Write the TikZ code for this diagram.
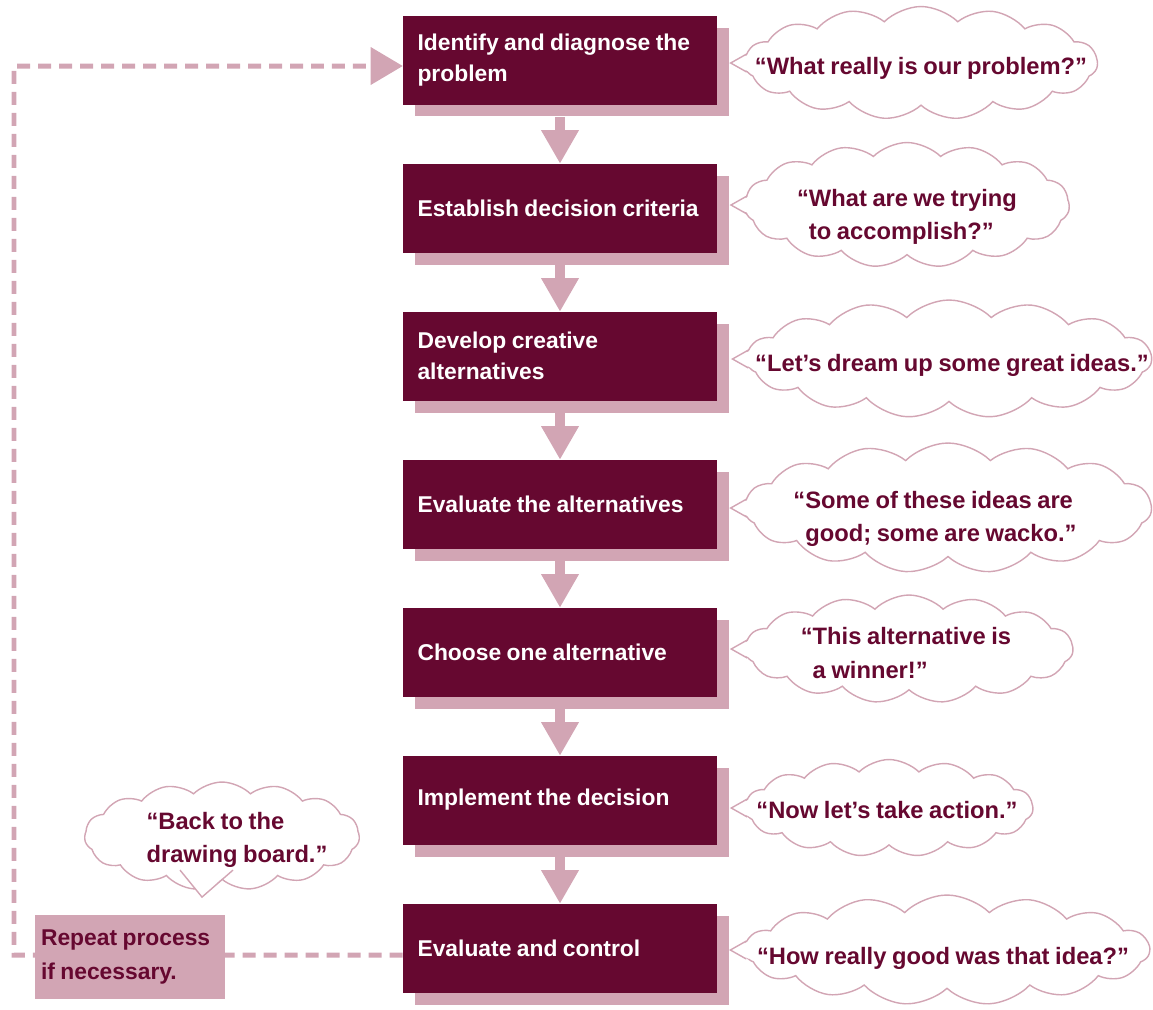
\documentclass[tikz,border=0pt]{standalone}
\usepackage{fontspec}
\setmainfont{Liberation Sans}[WordSpace=0.85]
\usetikzlibrary{arrows.meta,shapes.symbols,shadows}
\definecolor{wine}{HTML}{660830}
\definecolor{rose}{HTML}{D2A5B4}
\tikzset{
  stepbox/.style={fill=wine, text=white, font=\bfseries\fontsize{13}{18}\selectfont,
    text width=5.7cm, inner xsep=0.29cm, inner ysep=0pt, minimum height=1.78cm, align=flush left,
    drop shadow={shadow xshift=0.24cm, shadow yshift=-0.24cm, fill=rose, opacity=1}},
  thought/.style={cloud, cloud puffs=15, cloud puff arc=90, cloud ignores aspect,
    draw=rose, line width=0.8pt, fill=white, inner sep=0pt},
  saying/.style={text=wine, font=\bfseries\fontsize{13.5}{19}\selectfont, align=left, inner sep=0pt},
  tail/.style={draw=rose, line width=0.8pt},
  flow/.style={draw=rose, line width=0.2cm, -{Triangle[width=0.76cm,length=0.66cm,line width=0pt]}},
  redo/.style={draw=rose, line width=0.1cm, dash pattern=on 0.26cm off 0.16cm,
    -{Triangle[width=0.76cm,length=0.64cm,line width=0pt]}},
}

\begin{document}
\begin{tikzpicture}[x=0.02cm, y=-0.02cm]
    \useasboundingbox (0,0) rectangle (1153,1009);
    % the seven steps
    \node[stepbox] (s1) at (560,60) {Identify and diagnose the\\problem};
    \node[stepbox] (s2) at (560,208) {Establish decision criteria};
    \node[stepbox] (s3) at (560,356) {Develop creative\\alternatives};
    \node[stepbox] (s4) at (560,504) {Evaluate the alternatives};
    \node[stepbox] (s5) at (560,652) {Choose one alternative};
    \node[stepbox] (s6) at (560,800) {Implement the decision};
    \node[stepbox] (s7) at (560,948) {Evaluate and control};
    \draw[flow] ([yshift=-0.24cm]s1.south) -- (s2.north);
    \draw[flow] ([yshift=-0.24cm]s2.south) -- (s3.north);
    \draw[flow] ([yshift=-0.24cm]s3.south) -- (s4.north);
    \draw[flow] ([yshift=-0.24cm]s4.south) -- (s5.north);
    \draw[flow] ([yshift=-0.24cm]s5.south) -- (s6.north);
    \draw[flow] ([yshift=-0.24cm]s6.south) -- (s7.north);

    % loop back to the start
    \coordinate (turn) at (14,66);
    \draw[redo] ([yshift=-0.14cm]s7.west) -| (turn) -- ([yshift=-0.12cm]s1.west);
    \node[fill=rose, text=wine, font=\bfseries\fontsize{13}{19}\selectfont, text width=3.56cm,
      inner xsep=0.12cm, inner ysep=0pt, minimum height=1.68cm, align=flush left]
      (again) at (130,957) {Repeat process\\if necessary.};

    % thought clouds
    \node[thought, minimum width=7.06cm, minimum height=2.26cm] (c1) at (921,63) {};
    \node[thought, minimum width=6.5cm, minimum height=2.5cm] (c2) at (907,205) {};
    \node[thought, minimum width=8.1cm, minimum height=2.36cm] (c3) at (949,359) {};
    \node[thought, minimum width=8.14cm, minimum height=2.6cm] (c4) at (948,508) {};
    \node[thought, minimum width=6.56cm, minimum height=2.16cm] (c5) at (909,649) {};
    \node[thought, minimum width=5.76cm, minimum height=1.94cm] (c6) at (889,808) {};
    \node[thought, minimum width=8.1cm, minimum height=2.2cm] (c7) at (947,950) {};
    \node[thought, minimum width=5.5cm, minimum height=2.16cm] (cb) at (222,836) {};
    \foreach \c in {c1,c2,c3,c4,c5,c6,c7} {
      \fill[white] ([xshift=0.12cm,yshift=0.18cm]\c.west) -- ([xshift=-0.26cm]\c.west)
        -- ([xshift=0.12cm,yshift=-0.18cm]\c.west) -- cycle;
      \draw[tail] ([xshift=0.06cm,yshift=0.18cm]\c.west) -- ([xshift=-0.26cm]\c.west)
        -- ([xshift=0.06cm,yshift=-0.18cm]\c.west);
    }
    \fill[white] ([xshift=-0.84cm,yshift=0.24cm]cb.south) -- ([xshift=-0.4cm,yshift=-0.34cm]cb.south)
      -- ([xshift=0.22cm,yshift=0.24cm]cb.south) -- cycle;
    \draw[tail] ([xshift=-0.84cm,yshift=0.2cm]cb.south) -- ([xshift=-0.4cm,yshift=-0.34cm]cb.south)
      -- ([xshift=0.22cm,yshift=0.2cm]cb.south);

    \node[saying] (t1) at (921,68) {``What really is our problem?''};
    \node[saying] (t2) at (907,217) {``What are we trying\\\phantom{``}to accomplish?''};
    \node[saying] (t3) at (952,365) {``Let's dream up some great ideas.''};
    \node[saying] (t4) at (935,519) {``Some of these ideas are\\\phantom{``}good; some are wacko.''};
    \node[saying] (t5) at (906,653) {``This alternative is\\\phantom{``}a winner!''};
    \node[saying] (t6) at (887,810) {``Now let's take action.''};
    \node[saying] (t7) at (943,958) {``How really good was that idea?''};
    \node[saying] (tb) at (237,840) {``Back to the\\drawing board.''};
\end{tikzpicture}
\end{document}
